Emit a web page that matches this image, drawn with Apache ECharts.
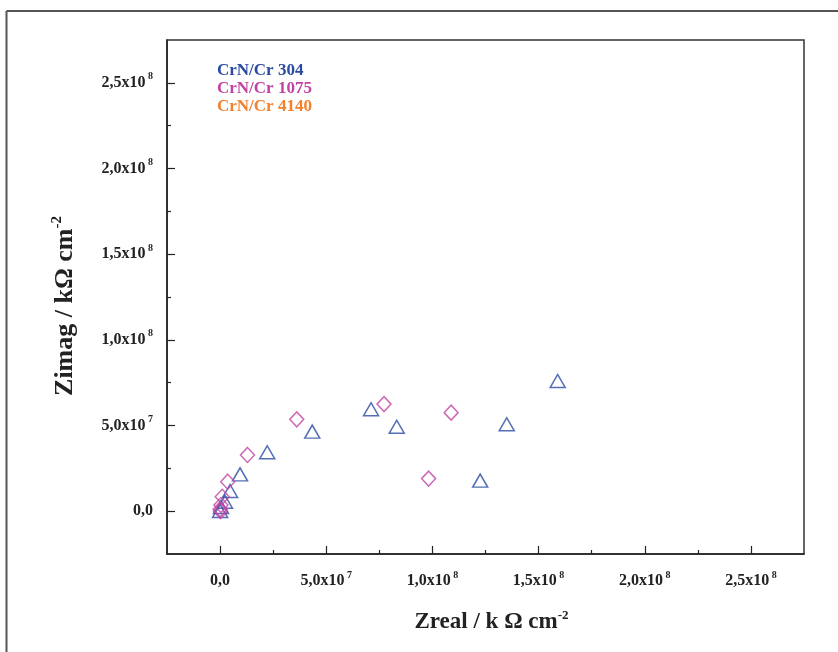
<!DOCTYPE html>
<html>
<head>
<meta charset="utf-8">
<script src="https://cdn.jsdelivr.net/npm/echarts@6/dist/echarts.min.js"></script>
<style>html,body{margin:0;padding:0;background:#fff}#c{width:838px;height:652px}</style>
</head>
<body>
<div id="c"></div>
<script>
// ---- data ----
const seriesNames = ['CrN/Cr 304', 'CrN/Cr 1075', 'CrN/Cr 4140'];
const zreal304 = [1.59e8, 1.35e8, 1.225e8, 8.32e7, 7.11e7, 4.34e7, 2.22e7, 9.4e6, 4.7e6, 2.3e6, 4.2e5, 0];
const zimag304 = [7.6e7, 5.07e7, 1.78e7, 4.93e7, 5.95e7, 4.64e7, 3.44e7, 2.15e7, 1.18e7, 5.5e6, 2.4e6, 1e5];
const zreal1075 = [7.72e7, 1.088e8, 9.82e7, 3.61e7, 1.29e7, 3.6e6, 1.0e6, 4.2e5, 0, 2e5];
const zimag1075 = [6.25e7, 5.75e7, 1.9e7, 5.36e7, 3.28e7, 1.72e7, 8.4e6, 3.6e6, 1.1e6, 0];
const zreal4140 = [];
const zimag4140 = [];
const majorTicks = [0, 5e7, 1e8, 1.5e8, 2e8, 2.5e8];
const minorTicks = [2.5e7, 7.5e7, 1.25e8, 1.75e8, 2.25e8];
const tickLabels = {0: ['0,0', ''], 5e7: ['5,0x10', '7'], 1e8: ['1,0x10', '8'], 1.5e8: ['1,5x10', '8'], 2e8: ['2,0x10', '8'], 2.5e8: ['2,5x10', '8']};
const colors = ['#2B4BA3', '#C243A3', '#F2812E'];

const pair = (xs, ys) => xs.map((x, i) => [x, ys[i]]);
const FONT = '"Liberation Serif", "DejaVu Serif", serif';
const labelFmt = v => {
  const t = tickLabels[v];
  if (!t) return '';
  return t[1] ? '{m|' + t[0] + '}{s| ' + t[1] + '}' : '{m|' + t[0] + '}{e| }';
};
const rich = {
  m: {fontFamily: FONT, fontWeight: 'bold', fontSize: 16, color: '#222'},
  s: {fontFamily: FONT, fontWeight: 'bold', fontSize: 10, color: '#222', padding: [0, 0, 12, 0]},
  e: {fontFamily: FONT, fontSize: 10, width: 0, color: 'rgba(0,0,0,0)', padding: [0, 0, 12, 0]}
};
function nameRich(size) {
  return {
    t: {fontFamily: FONT, fontWeight: 'bold', fontSize: size, color: '#222'},
    s: {fontFamily: FONT, fontWeight: 'bold', fontSize: Math.round(size * 0.56), color: '#222', padding: [0, 0, Math.round(size * 0.6), 0]}
  };
}
const AX_MIN = -2.5e7, AX_MAX = 2.75e8;

function mainAxis(isX) {
  return {
    type: 'value', min: AX_MIN, max: AX_MAX,
    position: isX ? 'bottom' : 'left',
    axisLine: {show: true, onZero: false, lineStyle: {color: '#222', width: 1.5}},
    axisTick: {show: true, inside: true, length: 8, customValues: majorTicks, lineStyle: {color: '#222', width: 1.2}},
    axisLabel: {show: true, customValues: majorTicks, formatter: labelFmt, rich: rich, margin: isX ? 16 : 14},
    splitLine: {show: false},
    name: isX ? '{t|Zreal / k Ω cm}{s|-2}' : '{t|Zimag / kΩ cm}{s|-2}',
    nameLocation: 'middle',
    nameGap: isX ? 55 : 86,
    nameTextStyle: isX ? {rich: nameRich(23), padding: [0, 0, 0, 12]} : {rich: nameRich(26), padding: [0, 18, 0, 0]}
  };
}
function minorAxis(isX) {
  return {
    type: 'value', min: AX_MIN, max: AX_MAX,
    position: isX ? 'bottom' : 'left',
    axisLine: {show: false, onZero: false},
    axisTick: {show: true, inside: true, length: 4, customValues: minorTicks, lineStyle: {color: '#222', width: 1.2}},
    axisLabel: {show: false},
    splitLine: {show: false}
  };
}

const chart = echarts.init(document.getElementById('c'), null, {renderer: 'canvas'});
chart.setOption({
  backgroundColor: '#fff',
  animation: false,
  grid: {left: 167, top: 40, width: 637, height: 514, show: true, borderColor: '#333', borderWidth: 1.5, backgroundColor: 'transparent'},
  xAxis: [mainAxis(true), minorAxis(true)],
  yAxis: [mainAxis(false), minorAxis(false)],
  legend: {
    orient: 'vertical', left: 207, top: 57, itemGap: 1, itemWidth: 0, itemHeight: 0,
    data: seriesNames.map((n, i) => ({name: n, icon: 'none', textStyle: {color: colors[i]}})),
    textStyle: {fontFamily: FONT, fontWeight: 'bold', fontSize: 17, padding: [0, 0, 0, 0]},
    selectedMode: false
  },
  graphic: [
    {type: 'line', shape: {x1: 6.5, y1: 11, x2: 838, y2: 11}, style: {stroke: '#555', lineWidth: 2}},
    {type: 'line', shape: {x1: 6.5, y1: 11, x2: 6.5, y2: 652}, style: {stroke: '#555', lineWidth: 2}}
  ],
  series: [
    {name: seriesNames[0], type: 'scatter', xAxisIndex: 0, yAxisIndex: 0, data: pair(zreal304, zimag304),
     symbol: 'triangle', symbolSize: [15, 13],
     itemStyle: {color: 'rgba(255,255,255,0)', borderColor: colors[0], borderWidth: 1.5}},
    {name: seriesNames[1], type: 'scatter', xAxisIndex: 0, yAxisIndex: 0, data: pair(zreal1075, zimag1075),
     symbol: 'diamond', symbolSize: [14, 15],
     itemStyle: {color: 'rgba(255,255,255,0)', borderColor: colors[1], borderWidth: 1.5}},
    {name: seriesNames[2], type: 'scatter', xAxisIndex: 0, yAxisIndex: 0, data: pair(zreal4140, zimag4140),
     symbol: 'circle', symbolSize: 12,
     itemStyle: {color: 'rgba(255,255,255,0)', borderColor: colors[2], borderWidth: 1.5}}
  ]
});
</script>
</body>
</html>
